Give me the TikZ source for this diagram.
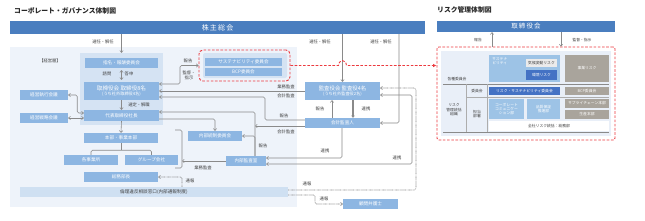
\documentclass[tikz,border=0pt]{standalone}
\usepackage{fontspec}
\setmainfont{Noto Sans CJK JP}
\usetikzlibrary{arrows.meta,calc}
\definecolor{barblue}{HTML}{4A7EBF}
\definecolor{boxblue}{HTML}{8DB6E2}
\definecolor{grpblue}{HTML}{D5E3F3}
\definecolor{panelbg}{HTML}{EEF3FA}
\definecolor{linegray}{HTML}{8A8A8A}
\definecolor{txtgray}{HTML}{404040}
\definecolor{riskred}{HTML}{EC3A3F}
\definecolor{darkblue}{HTML}{4472C4}
\definecolor{lightblue}{HTML}{9DC3E6}
\definecolor{stone}{HTML}{A9A49C}
\definecolor{hotbg}{HTML}{CFE0F2}
\definecolor{riskbg}{HTML}{E9EFF8}
\newcommand{\mybox}[7]{\node[#6, minimum width={(#4-#2)*1pt}, minimum height={(#5-#3)*1pt}] (#1) at ({(#2+#4)/2},{(#3+#5)/2}) {#7};}
\tikzset{
 bx/.style={fill=boxblue, text=white, inner sep=0pt, align=center, font=\fontsize{4.6}{5.4}\selectfont},
 plain/.style={inner sep=0pt, align=center},
 lbl/.style={text=txtgray, inner sep=0pt, font=\fontsize{4.3}{5}\selectfont, align=center},
 rlbl/.style={text=txtgray, inner sep=0pt, font=\fontsize{3.8}{4.4}\selectfont, align=center},
 rbx/.style={inner sep=0pt, align=center, font=\fontsize{3.8}{4.4}\selectfont},
 conn/.style={draw=linegray, line width=0.6pt, rounded corners=1.5pt},
 arr/.style={conn, -{Straight Barb[length=1.8pt,width=3.4pt]}},
 darr/.style={conn, {Straight Barb[length=1.8pt,width=3.4pt]}-{Straight Barb[length=1.8pt,width=3.4pt]}},
 dotarr/.style={arr, dash pattern=on 0.7pt off 0.6pt},
 reddash/.style={draw=riskred, line width=0.9pt, dash pattern=on 2.6pt off 1.6pt},
}
\begin{document}
\begin{tikzpicture}[x=1pt,y=-1pt]
\useasboundingbox (0,0) rectangle (645,220);
\fill[white] (0,0) rectangle (645,220);

% ---------------- left: corporate governance ----------------
\node[plain, anchor=west, font=\bfseries\fontsize{6.8}{8}\selectfont, text=black!85] (t1) at (14,11) {コーポレート・ガバナンス体制図};
\mybox{sh}{10}{21}{425}{34}{plain, fill=barblue, text=white, font=\fontsize{7}{8}\selectfont}{株\,主\,総\,会}
\mybox{panel}{10}{47}{297}{207}{plain, fill=panelbg}{}
\mybox{grp}{80}{53}{163}{125}{plain, fill=grpblue}{}
\node[lbl] (keiei) at (50,61) {【経営層】};

\mybox{nom}{85}{58}{158}{68}{bx}{指名・報酬委員会}
\mybox{bod}{84}{82}{159}{100}{bx, font=\fontsize{5.6}{6}\selectfont}{取締役会\ 取締役8名\\[-0.5pt]{\fontsize{4.2}{5}\selectfont (うち社外取締役4名)}}
\mybox{pres}{84}{110}{159}{121}{bx}{代表取締役社長}
\mybox{exec}{20}{90}{68}{100}{bx}{経営執行会議}
\mybox{strat}{20}{113}{68}{123}{bx}{経営戦略会議}
\mybox{hq}{84}{133}{158}{143}{bx}{本部・事業本部}
\mybox{office}{64}{155}{118}{165}{bx}{各事業所}
\mybox{group}{125}{155}{178}{165}{bx}{グループ会社}
\mybox{gm}{84}{172}{158}{182}{bx}{総務部長}
\mybox{hotline}{20}{187}{288}{197}{plain, fill=hotbg, text=txtgray, font=\fontsize{4.6}{5.4}\selectfont}{倫理違反相談窓口(内部通報制度)}
\mybox{icc}{188}{131}{242}{141}{bx}{内部統制委員会}
\mybox{ia}{226}{156}{266}{166}{bx}{内部監査室}

\mybox{susg}{199}{50}{290}{81}{plain, reddash, rounded corners=4pt}{}
\mybox{susin}{203}{53}{287}{78}{plain, fill=grpblue, rounded corners=2pt}{}
\mybox{sus}{205}{58}{282}{66}{bx}{サステナビリティ委員会}
\mybox{bcp}{205}{68}{282}{76}{bx}{BCP委員会}

\mybox{asb}{305}{82}{380}{100}{bx, font=\fontsize{5.4}{6}\selectfont}{監査役会\ 監査役4名\\[-0.5pt]{\fontsize{4.2}{5}\selectfont (うち社外監査役2名)}}
\mybox{auditor}{305}{118}{380}{128}{bx}{会計監査人}
\mybox{lawyer}{343}{199}{398}{209}{bx}{顧問弁護士}

% connectors (left)
\draw[arr] (sh.south -| nom) -- (grp.north -| nom);
\node[lbl] (l1) at (103,42) {選任・解任};
\draw[darr] ([yshift=-2pt]nom.south) -- ([yshift=2pt]bod.north);
\node[lbl] (l2) at (107,74) {諮問};
\node[lbl] (l3) at (129,74) {答申};
\draw[arr] (bod.south) -- (pres.north);
\node[lbl] (l4) at (139,105) {選定・解職};
\draw[arr] (pres.south) -- (hq.north);
\coordinate (tj) at ($(hq.south)+(0,7)$);
\draw[conn] (hq.south) -- (tj);
\draw[conn] (office.north) |- (tj) -| (group.north);
\coordinate (brt) at (182,130);
\coordinate (brb) at (182,168);
\draw[conn] ($(brt)+(-7,0)$) -- (brt) -- (brb) -- ($(brb)+(-7,0)$);
\draw[arr] (ia.west) -- (ia.west -| brt);
\node[lbl] (l5) at (203,168) {業務監査};

\draw[darr] (exec.east) -- ++(9,0) |- ([yshift=2.5pt]pres.west);
\draw[darr] (strat.east) -- (strat.east -| pres.west);

\coordinate (sv) at (180,84);
\draw[darr] ([yshift=7pt]bod.east) -- (sv) |- (susg.west);
\node[lbl] (l6) at (188,61) {報告};
\node[lbl] (l7) at (189,75) {監督・\\指示};

\draw[arr] (asb.west) -- (asb.west -| bod.east);
\node[lbl] (l8) at (286,87) {業務監査};
\node[lbl] (l9) at (286,96) {会計監査};

\coordinate (av) at (265,120);
\draw[arr] ([yshift=3pt]auditor.west) -- (av) |- ([yshift=-6pt]bod.east);
\node[lbl] (l10) at (284,116) {報告};
\coordinate (iav) at (255,126);
\draw[arr] ([yshift=-3pt]auditor.west) -- (iav);
\node[lbl] (l11) at (286,132) {会計監査};

\draw[arr] (ia.north -| iav) |- ([yshift=3.5pt]pres.east);
\draw[arr] (ia.north -| iav) |- (icc.east);
\node[lbl] (l12) at (263,146) {報告};
\draw[arr] ([yshift=-3.5pt]pres.east) -| (icc.north);

\draw[arr] (auditor.north -| 332,0) -- (asb.south -| 332,0);
\draw[conn, line width=1.2pt, -{Triangle[length=2.2pt,width=3.4pt]}] (asb.south -| 353,0) -- (auditor.north -| 353,0);
\node[lbl] (l13) at (320,109) {報告};
\node[lbl] (l14) at (366,109) {連携};

\draw[arr] (sh.south -| asb) -- (asb.north);
\node[lbl] (l15) at (320,42) {選任・解任};
\coordinate (sr) at (399,34);
\draw[arr] (sr) |- (auditor.east);
\node[lbl] (l16) at (381,42) {選任・解任};

\coordinate (cr) at (412,95);
\draw[darr] ([yshift=-4pt]asb.east) -- (cr) |- ([yshift=-3pt]ia.east);
\node[lbl] (l17) at (397,158) {連携};
\draw[arr] (auditor.south -| 342,0) |- ([yshift=3pt]ia.east);
\node[lbl] (l18) at (325,151) {連携};

\draw[dotarr] (hotline.north -| brt) |- (gm.east);
\node[lbl] (l19) at (190,181) {通報};
\coordinate (dr) at (416,190);
\draw[dotarr] ([yshift=2pt]hotline.east) -- (dr) |- ([yshift=3pt]asb.east);
\node[lbl] (l20) at (307,184) {通報};
\coordinate (dl) at (315,195);
\draw[dotarr] ([yshift=-3pt]hotline.east) -- (dl) |- (lawyer.west);
\node[lbl] (l21) at (324,199) {通報};

% ---------------- right: risk management ----------------
\node[plain, anchor=west, font=\bfseries\fontsize{6.8}{8}\selectfont, text=black!85] (t2) at (437,10) {リスク管理体制図};
\mybox{bod2}{437}{21}{615}{32}{plain, fill=barblue, text=white, font=\fontsize{6.5}{8}\selectfont}{取\,締\,役\,会}
\mybox{riskbox}{437}{47}{615}{140}{plain, reddash, fill=white, rounded corners=2pt}{}
\mybox{riskin}{441}{51}{611}{136}{plain, fill=riskbg}{}

\draw[arr] (riskbox.north -| 492,0) -- (bod2.south -| 492,0);
\node[rlbl] (r1) at (478,40) {報告};
\draw[arr] (bod2.south -| 561,0) -- (riskbox.north -| 561,0);
\node[rlbl] (r2) at (582,40) {監督・指示};

\mybox{rsus}{489}{55}{560}{82}{rbx, fill=lightblue}{}
\node[rbx, text=white, anchor=north west] (rsust) at (492,57) {サステナ\\ビリティ};
\mybox{clim}{526}{59}{557}{67}{rbx, fill=white!92!black, text=txtgray}{気候変動リスク}
\mybox{env}{526}{70}{557}{80}{rbx, fill=darkblue, text=white}{環境リスク}
\mybox{biz}{565}{55}{609}{82}{rbx, fill=stone, text=white}{事業リスク}
\node[rlbl] (r3) at (457,79) {各種委員会};

\draw[linegray, line width=0.6pt] (443,84) -- (609,84);
\draw[linegray!70, line width=0.4pt] (466,97) -- (609,97);
\draw[linegray!70, line width=0.4pt] (466,84) -- (466,132);
\draw[linegray!70, line width=0.4pt] (487,84) -- (487,132);
\draw[linegray, line width=0.6pt] (443,132) -- (609,132);

\node[rlbl] (r4) at (477,91) {委員会};
\mybox{rsc}{489}{87}{560}{95}{rbx, fill=darkblue, text=white}{リスク・サステナビリティ委員会}
\mybox{bcp2}{565}{87}{609}{95}{rbx, fill=stone, text=white}{BCP委員会}
\node[rlbl] (r5) at (454,110) {リスク\\管理統括\\組織};
\node[rlbl] (r6) at (477,114) {担当\\部署};
\mybox{cc}{489}{99}{524}{119}{rbx, fill=lightblue, text=white}{コーポレート\\コミュニケー\\ション部}
\mybox{qa}{527}{99}{560}{119}{rbx, fill=lightblue, text=white}{品質保証\\推進部}
\mybox{sc}{565}{99}{609}{108}{rbx, fill=stone, text=white}{サプライチェーン本部}
\mybox{prod}{565}{110}{609}{119}{rbx, fill=stone, text=white}{生産本部}
\mybox{allr}{489}{121}{609}{131}{rbx, fill=white, text=txtgray}{全社リスク統括：総務部}

% red dashed link
\draw[reddash, -{Latex[length=3.5pt,width=3.5pt]}] (susg.east) -- (338.5,65.5) .. controls (339,59) and (346,59) .. (346.5,65.5) -- (riskbox.west |- susg.east);
\end{tikzpicture}
\end{document}
